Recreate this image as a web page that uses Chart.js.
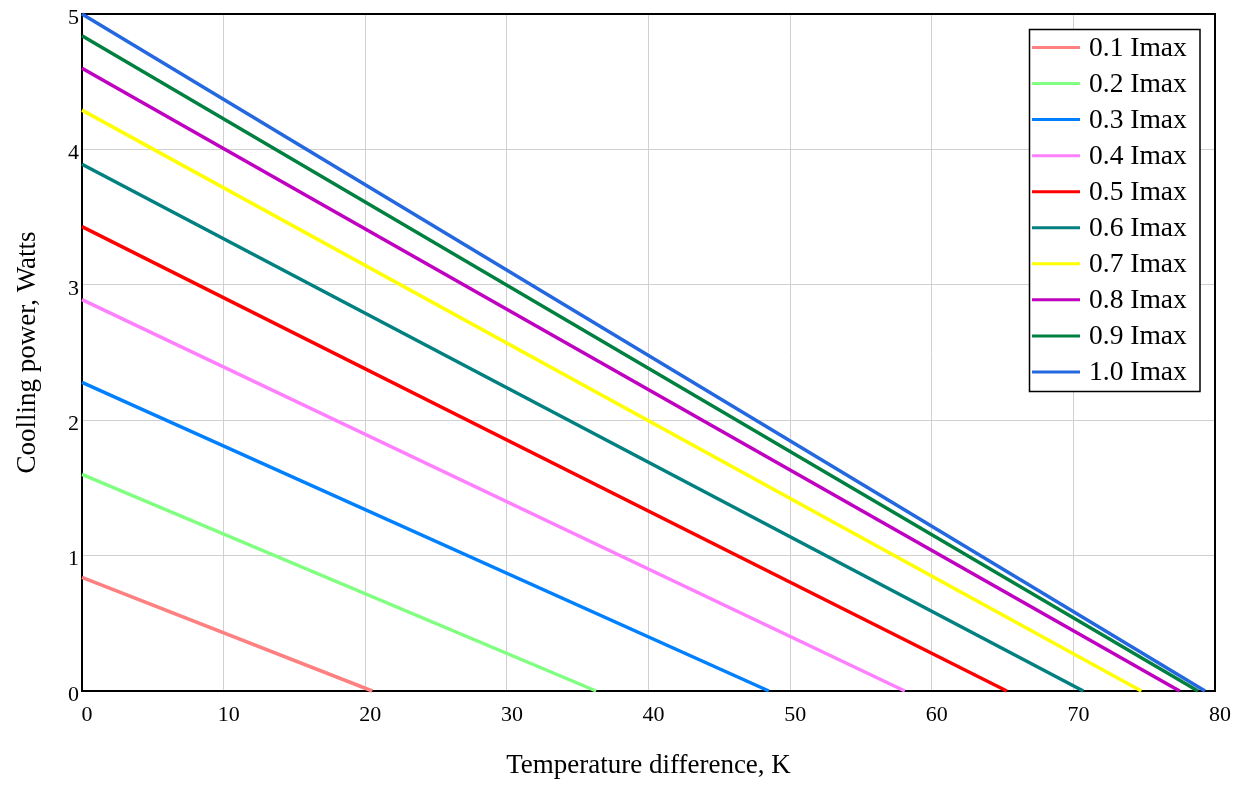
<!DOCTYPE html>
<html>
<head>
<meta charset="utf-8">
<script src="https://cdn.jsdelivr.net/npm/chart.js@4/dist/chart.umd.min.js"></script>
<style>
  html, body { margin: 0; padding: 0; background: #ffffff; }
  #wrap { width: 1245px; height: 785px; position: relative; }
</style>
</head>
<body>
<div id="wrap"><canvas id="c" width="1245" height="785"></canvas></div>
<script>
// Series labels
const seriesLabels = ['0.1 Imax', '0.2 Imax', '0.3 Imax', '0.4 Imax', '0.5 Imax',
                      '0.6 Imax', '0.7 Imax', '0.8 Imax', '0.9 Imax', '1.0 Imax'];
// Cooling power at zero temperature difference (W)
const powerAtZeroDT = [0.84, 1.60, 2.28, 2.89, 3.43, 3.89, 4.29, 4.60, 4.84, 5.00];
// Temperature difference where cooling power reaches zero (K)
const deltaTAtZeroPower = [20.5, 36.3, 48.5, 58.1, 65.3, 70.7, 74.8, 77.5, 78.8, 79.3];
// Axis ticks
const xTicks = [0, 10, 20, 30, 40, 50, 60, 70, 80];
const yTicks = [0, 1, 2, 3, 4, 5];

const seriesColors = ['#ff8080', '#80ff80', '#0080ff', '#ff80ff', '#ff0000',
                      '#008080', '#ffff00', '#c000c0', '#008040', '#2468e0'];

const FONT = "'Liberation Serif', 'Times New Roman', serif";

const datasets = seriesLabels.map((lab, i) => ({
  label: lab,
  data: [{ x: 0, y: powerAtZeroDT[i] }, { x: deltaTAtZeroPower[i], y: 0 }],
  borderColor: seriesColors[i],
  backgroundColor: seriesColors[i],
  borderWidth: 3.5,
  pointRadius: 0,
  showLine: true,
  fill: false,
  clip: false
}));

const frameAndLegend = {
  id: 'frameAndLegend',
  beforeDatasetsDraw(chart) {
    const { ctx, chartArea: a } = chart;
    ctx.save();
    ctx.strokeStyle = '#000000';
    ctx.lineWidth = 2;
    ctx.strokeRect(a.left, a.top, a.right - a.left, a.bottom - a.top);
    ctx.restore();
  },
  afterDraw(chart) {
    const { ctx } = chart;
    const ds = chart.data.datasets;
    const boxL = 1029.5, boxT = 29.5, boxR = 1200, boxB = 391.5;
    ctx.save();
    ctx.fillStyle = '#ffffff';
    ctx.fillRect(boxL, boxT, boxR - boxL, boxB - boxT);
    ctx.strokeStyle = '#000000';
    ctx.lineWidth = 1.5;
    ctx.strokeRect(boxL, boxT, boxR - boxL, boxB - boxT);
    const rowH = 36.05, y0 = 47.5;
    ctx.font = "27.5px " + FONT;
    ctx.textBaseline = 'middle';
    ctx.textAlign = 'left';
    ds.forEach((d, i) => {
      const y = y0 + i * rowH;
      ctx.strokeStyle = d.borderColor;
      ctx.lineWidth = 3;
      ctx.beginPath();
      ctx.moveTo(1032, y);
      ctx.lineTo(1080, y);
      ctx.stroke();
      ctx.fillStyle = '#000000';
      ctx.fillText(d.label, 1089, y + 1);
    });
    ctx.restore();
  }
};

new Chart(document.getElementById('c'), {
  type: 'scatter',
  data: { datasets },
  plugins: [frameAndLegend],
  options: {
    responsive: false,
    animation: false,
    devicePixelRatio: 1,
    layout: { padding: { top: 13, right: 30, left: 0, bottom: 0 } },
    plugins: { legend: { display: false }, tooltip: { enabled: false } },
    scales: {
      x: {
        type: 'linear',
        min: 0, max: 80,
        afterBuildTicks: (s) => { s.ticks = xTicks.map(v => ({ value: v })); },
        afterFit: (s) => { s.height = 94; },
        grid: { color: '#d0d0d0', lineWidth: 1, drawTicks: false },
        border: { display: false },
        ticks: {
          color: '#000000', font: { family: FONT, size: 22, lineHeight: 1 },
          padding: 13, labelOffset: 5, maxRotation: 0, autoSkip: false
        },
        title: {
          display: true, text: 'Temperature difference, K',
          color: '#000000', font: { family: FONT, size: 27 },
          padding: { top: 0, bottom: 3 }
        }
      },
      y: {
        type: 'linear',
        min: 0, max: 5,
        afterBuildTicks: (s) => { s.ticks = yTicks.map(v => ({ value: v })); },
        afterFit: (s) => { s.width = 82; },
        grid: { color: '#d0d0d0', lineWidth: 1, drawTicks: false },
        border: { display: false },
        ticks: {
          color: '#000000', font: { family: FONT, size: 22, lineHeight: 1 },
          padding: 3, labelOffset: 4, autoSkip: false
        },
        title: {
          display: true, text: 'Coolling power, Watts',
          color: '#000000', font: { family: FONT, size: 27 },
          padding: { top: 12, bottom: 0 }
        }
      }
    }
  }
});
</script>
</body>
</html>
